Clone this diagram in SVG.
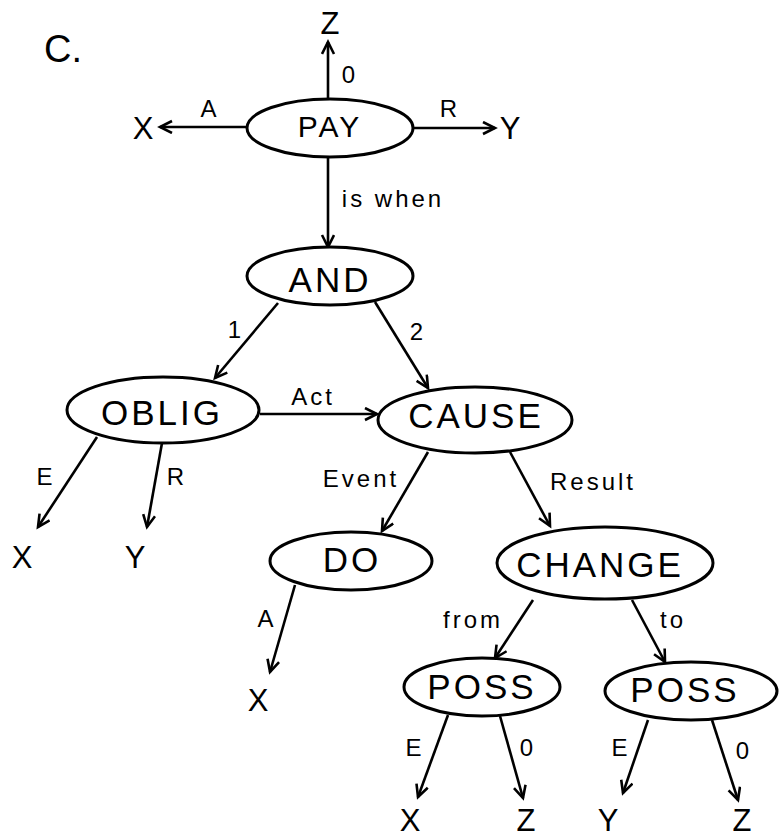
<svg xmlns="http://www.w3.org/2000/svg" width="783" height="837" viewBox="0 0 783 837">
  <style>
    .node ellipse { fill: #fff; stroke: #000; stroke-width: 3; }
    .node text { font-family: "Liberation Sans", Arial, sans-serif; font-size: 35px; letter-spacing: 3px; text-anchor: middle; fill: #000; }
    .leaf { font-family: "Liberation Sans", Arial, sans-serif; font-size: 31px; text-anchor: middle; fill: #000; }
    .lbl { font-family: "Liberation Sans", Arial, sans-serif; font-size: 24px; letter-spacing: 3px; text-anchor: middle; fill: #000; }
    #edges line { stroke: #000; stroke-width: 2.6; marker-end: url(#arrow); }
  </style>
  <defs>
    <marker id="arrow" markerUnits="userSpaceOnUse" markerWidth="16" markerHeight="16" refX="13" refY="7" orient="auto">
      <path d="M1,1 L13,7 L1,13" fill="none" stroke="#000" stroke-width="2.6" stroke-linejoin="miter"/>
    </marker>
  </defs>
  <rect width="783" height="837" fill="#fff"/>

  <text x="44" y="62" font-family="Liberation Sans, Arial, sans-serif" font-size="38" fill="#000">C.</text>

  <!-- connectors -->
  <g id="edges">
    <line x1="328" y1="99" x2="328" y2="42"/>
    <line x1="247" y1="127" x2="160" y2="127"/>
    <line x1="413" y1="128" x2="495" y2="128"/>
    <line x1="328" y1="157" x2="328" y2="247"/>
    <line x1="278" y1="303" x2="215" y2="378"/>
    <line x1="375" y1="302" x2="428" y2="388"/>
    <line x1="260" y1="414" x2="377" y2="414"/>
    <line x1="97" y1="437" x2="38" y2="527"/>
    <line x1="162" y1="443" x2="147" y2="527"/>
    <line x1="428" y1="452" x2="382" y2="531"/>
    <line x1="510" y1="452" x2="550" y2="526"/>
    <line x1="295" y1="585" x2="270" y2="672"/>
    <line x1="533" y1="600" x2="495" y2="658"/>
    <line x1="632" y1="600" x2="665" y2="662"/>
    <line x1="448" y1="715" x2="418" y2="797"/>
    <line x1="500" y1="716" x2="523" y2="798"/>
    <line x1="648" y1="720" x2="623" y2="793"/>
    <line x1="712" y1="720" x2="738" y2="800"/>
  </g>

  <!-- connector labels -->
  <g id="edge-labels">
    <text class="lbl" x="350" y="83">0</text>
    <text class="lbl" x="210" y="117">A</text>
    <text class="lbl" x="450" y="117">R</text>
    <text class="lbl" x="393" y="207">is when</text>
    <text class="lbl" x="236" y="338">1</text>
    <text class="lbl" x="418" y="340">2</text>
    <text class="lbl" x="313" y="405">Act</text>
    <text class="lbl" x="46" y="485">E</text>
    <text class="lbl" x="177" y="485">R</text>
    <text class="lbl" x="361" y="487">Event</text>
    <text class="lbl" x="593" y="490">Result</text>
    <text class="lbl" x="267" y="627">A</text>
    <text class="lbl" x="473" y="628">from</text>
    <text class="lbl" x="673" y="628">to</text>
    <text class="lbl" x="415" y="756">E</text>
    <text class="lbl" x="528" y="756">0</text>
    <text class="lbl" x="621" y="756">E</text>
    <text class="lbl" x="744" y="759">0</text>
  </g>

  <!-- nodes -->
  <g id="pay" class="node">
    <ellipse cx="330" cy="128" rx="83" ry="29"/>
    <text x="330" y="137" style="font-size:30px">PAY</text>
  </g>
  <g id="and" class="node">
    <ellipse cx="330" cy="276" rx="83" ry="29"/>
    <text x="330" y="292">AND</text>
  </g>
  <g id="oblig" class="node">
    <ellipse cx="163" cy="410" rx="96" ry="33"/>
    <text x="162" y="425">OBLIG</text>
  </g>
  <g id="cause" class="node">
    <ellipse cx="475" cy="420" rx="97" ry="33"/>
    <text x="476" y="428">CAUSE</text>
  </g>
  <g id="do" class="node">
    <ellipse cx="351" cy="561" rx="81" ry="29"/>
    <text x="352" y="572">DO</text>
  </g>
  <g id="change" class="node">
    <ellipse cx="605" cy="563" rx="108" ry="36"/>
    <text x="600" y="577">CHANGE</text>
  </g>
  <g id="poss-from" class="node">
    <ellipse cx="482" cy="687" rx="78" ry="29"/>
    <text x="482" y="699">POSS</text>
  </g>
  <g id="poss-to" class="node">
    <ellipse cx="691" cy="691" rx="86" ry="29"/>
    <text x="685" y="702">POSS</text>
  </g>

  <!-- terminal arguments -->
  <g id="leaves">
    <text class="leaf" x="330" y="34">Z</text>
    <text class="leaf" x="143" y="139">X</text>
    <text class="leaf" x="510" y="139">Y</text>
    <text class="leaf" x="22" y="568">X</text>
    <text class="leaf" x="135" y="568">Y</text>
    <text class="leaf" x="258" y="711">X</text>
    <text class="leaf" x="410" y="831">X</text>
    <text class="leaf" x="526" y="831">Z</text>
    <text class="leaf" x="608" y="831">Y</text>
    <text class="leaf" x="742" y="831">Z</text>
  </g>
</svg>
